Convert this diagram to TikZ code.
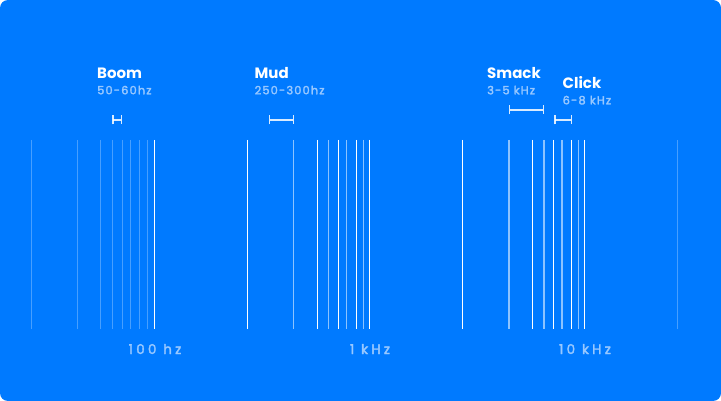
\documentclass[tikz,border=0pt]{standalone}
\usepackage{fontspec}
\setmainfont{Poppins}
\newfontfamily\medfont{Poppins}[FakeBold=2.5]
\usetikzlibrary{arrows.meta}
\definecolor{bg}{HTML}{007AFF}
\definecolor{subcol}{HTML}{98C8FF}
\tikzset{
  faintline/.style={draw=white, draw opacity=0.28, line width=1pt},
  semiline/.style={draw=white, draw opacity=0.55, line width=1.3pt},
  fullline/.style={draw=white, line width=1pt},
  title/.style={anchor=base west, inner sep=0pt, text=white, font=\fontsize{15}{15}\selectfont\bfseries},
  subtitle/.style={anchor=base west, inner sep=0pt, text=subcol, font=\medfont\fontsize{11.4}{11.4}\selectfont\addfontfeatures{LetterSpace=10}},
  axislabel/.style={anchor=base, inner sep=0pt, text=subcol, font=\medfont\fontsize{13.5}{13.5}\selectfont\addfontfeatures{LetterSpace=24}},
  bracket/.style={draw=white, draw opacity=0.85, line width=1.2pt, {Bar[width=9pt,line width=1.2pt]}-{Bar[width=9pt,line width=1.2pt]}}
}
\begin{document}
\begin{tikzpicture}[x=1pt, y=-1pt]
\useasboundingbox (0,0) rectangle (721,401);
\fill[bg, rounded corners=8pt] (0,0) rectangle (721,401);
% grid lines
\foreach \x in {31,77.7,100.7,112.3,122,130.3,139.7,147.7,677.7}
  \draw[faintline] (\x,140) -- (\x,329);
\foreach \x in {293.7,328.7,346.7,363.7,509,544,562,578.7}
  \draw[semiline] (\x,140) -- (\x,329);
\foreach \x in {154.3,247.3,317.3,338.3,356.3,369.3,462.3,532.3,553.7,571.3,584.7}
  \draw[fullline] (\x,140) -- (\x,329);
% labels
\node[title] (boom) at (97,79) {Boom};
\node[subtitle] (boomr) at (97,94.3) {50-60hz};
\node[title] (mud) at (254.5,79) {Mud};
\node[subtitle] (mudr) at (254.5,94.3) {250-300hz};
\node[title] (smack) at (487,79) {Smack};
\node[subtitle] (smackr) at (487,94.3) {3-5 kHz};
\node[title] (click) at (562.5,89) {Click};
\node[subtitle] (clickr) at (562.5,104.3) {6-8 kHz};
% brackets
\coordinate (b1) at (112.3,120); \coordinate (b2) at (122,120);
\coordinate (m1) at (269,120); \coordinate (m2) at (294.3,120);
\coordinate (s1) at (508.7,110); \coordinate (s2) at (544,110);
\coordinate (c1) at (554.3,120); \coordinate (c2) at (572.3,120);
\draw[bracket] (b1) -- (b2);
\draw[bracket] (m1) -- (m2);
\draw[bracket] (s1) -- (s2);
\draw[bracket] (c1) -- (c2);
% axis labels
\node[axislabel] (l100) at (155,354) {100 hz};
\node[axislabel] (l1k) at (370,354) {1 kHz};
\node[axislabel] (l10k) at (585,354) {10 kHz};
\end{tikzpicture}
\end{document}
